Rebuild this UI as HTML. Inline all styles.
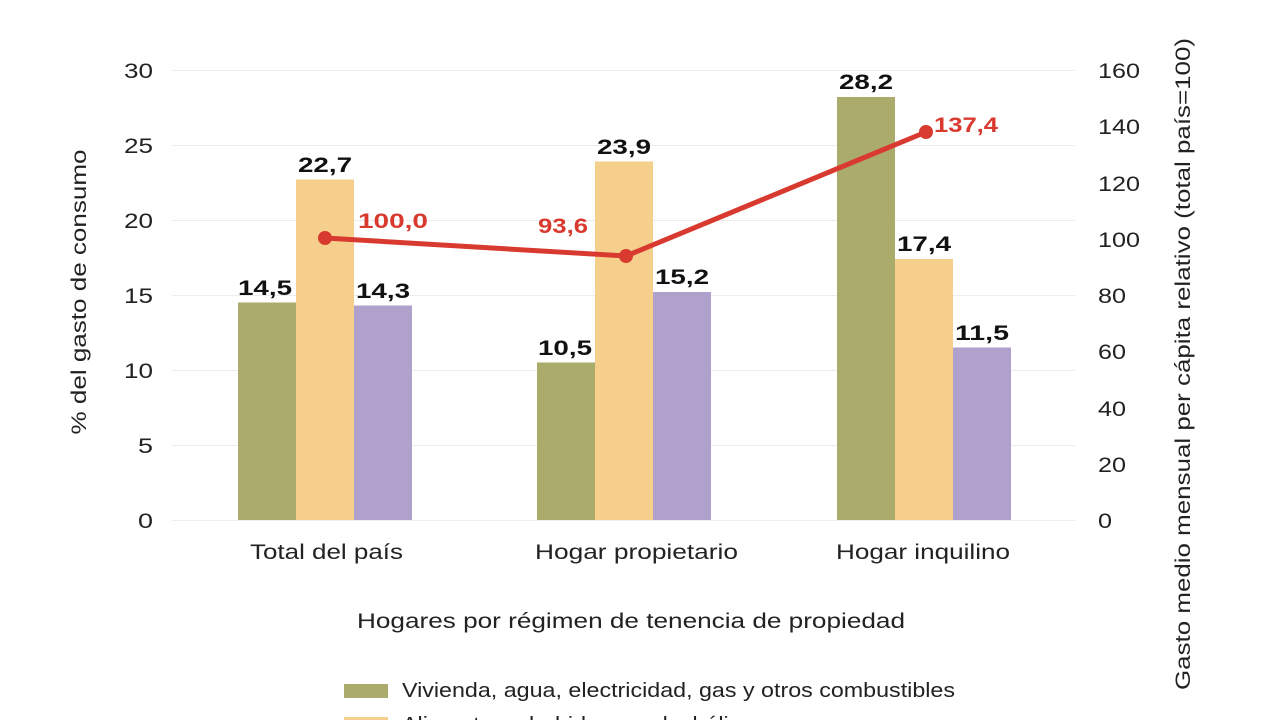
<!DOCTYPE html>
<html><head><meta charset="utf-8"><style>
body{margin:0;background:#fff;width:1280px;height:720px;overflow:hidden}
text{font-family:"Liberation Sans",sans-serif}
</style></head><body>
<svg width="1280" height="720" viewBox="0 0 1280 720" xmlns="http://www.w3.org/2000/svg">
<g stroke="#ececec" stroke-width="1">
<line x1="172" x2="1075" y1="70.5" y2="70.5"/><line x1="172" x2="1075" y1="145.5" y2="145.5"/>
<line x1="172" x2="1075" y1="220.5" y2="220.5"/><line x1="172" x2="1075" y1="295.5" y2="295.5"/>
<line x1="172" x2="1075" y1="370.5" y2="370.5"/><line x1="172" x2="1075" y1="445.5" y2="445.5"/>
<line x1="172" x2="1075" y1="520.5" y2="520.5"/>
</g>
<g font-size="21" fill="#222" text-anchor="end" lengthAdjust="spacingAndGlyphs">
<text x="153" y="78" textLength="29" lengthAdjust="spacingAndGlyphs">30</text><text x="153" y="153" textLength="29" lengthAdjust="spacingAndGlyphs">25</text><text x="153" y="228" textLength="29" lengthAdjust="spacingAndGlyphs">20</text>
<text x="153" y="303" textLength="29" lengthAdjust="spacingAndGlyphs">15</text><text x="153" y="378" textLength="29" lengthAdjust="spacingAndGlyphs">10</text><text x="153" y="453" textLength="15" lengthAdjust="spacingAndGlyphs">5</text><text x="153" y="528" textLength="15" lengthAdjust="spacingAndGlyphs">0</text>
</g>
<g font-size="21" fill="#222">
<text x="1098" y="78" textLength="42" lengthAdjust="spacingAndGlyphs">160</text><text x="1098" y="134" textLength="42" lengthAdjust="spacingAndGlyphs">140</text><text x="1098" y="191" textLength="42" lengthAdjust="spacingAndGlyphs">120</text>
<text x="1098" y="247" textLength="42" lengthAdjust="spacingAndGlyphs">100</text><text x="1098" y="303" textLength="28" lengthAdjust="spacingAndGlyphs">80</text><text x="1098" y="359" textLength="28" lengthAdjust="spacingAndGlyphs">60</text>
<text x="1098" y="416" textLength="28" lengthAdjust="spacingAndGlyphs">40</text><text x="1098" y="472" textLength="28" lengthAdjust="spacingAndGlyphs">20</text><text x="1098" y="528" textLength="14" lengthAdjust="spacingAndGlyphs">0</text>
</g>
<text font-size="21" fill="#222" text-anchor="middle" textLength="285" lengthAdjust="spacingAndGlyphs" transform="translate(86,292) rotate(-90)">% del gasto de consumo</text>
<text font-size="21" fill="#222" text-anchor="middle" textLength="652" lengthAdjust="spacingAndGlyphs" transform="translate(1190,364) rotate(-90)">Gasto medio mensual per cápita relativo (total país=100)</text>
<g>
<rect x="238" y="302.5" width="58" height="217.5" fill="#abab6b"/>
<rect x="296" y="179.5" width="58" height="340.5" fill="#f6cf8c"/>
<rect x="354" y="305.5" width="58" height="214.5" fill="#afa1cb"/>
<rect x="537" y="362.5" width="58" height="157.5" fill="#abab6b"/>
<rect x="595" y="161.5" width="58" height="358.5" fill="#f6cf8c"/>
<rect x="653" y="292" width="58" height="228" fill="#afa1cb"/>
<rect x="837" y="97" width="58" height="423" fill="#abab6b"/>
<rect x="895" y="259" width="58" height="261" fill="#f6cf8c"/>
<rect x="953" y="347.5" width="58" height="172.5" fill="#afa1cb"/>
</g>
<g font-size="21" font-weight="bold" fill="#111" text-anchor="middle">
<text x="265" y="295" textLength="54" lengthAdjust="spacingAndGlyphs">14,5</text><text x="325" y="172" textLength="54" lengthAdjust="spacingAndGlyphs">22,7</text><text x="383" y="298" textLength="54" lengthAdjust="spacingAndGlyphs">14,3</text>
<text x="565" y="355" textLength="54" lengthAdjust="spacingAndGlyphs">10,5</text><text x="624" y="154" textLength="54" lengthAdjust="spacingAndGlyphs">23,9</text><text x="682" y="284" textLength="54" lengthAdjust="spacingAndGlyphs">15,2</text>
<text x="866" y="89" textLength="54" lengthAdjust="spacingAndGlyphs">28,2</text><text x="924" y="251" textLength="54" lengthAdjust="spacingAndGlyphs">17,4</text><text x="982" y="340" textLength="54" lengthAdjust="spacingAndGlyphs">11,5</text>
</g>
<polyline points="325,238 626,256 926,132" fill="none" stroke="#d93a2f" stroke-width="5"/>
<circle cx="325" cy="238" r="7" fill="#d93a2f"/><circle cx="626" cy="256" r="7" fill="#d93a2f"/><circle cx="926" cy="132" r="7" fill="#d93a2f"/>
<g font-size="21" font-weight="bold" fill="#d93a2f">
<text x="358" y="228" textLength="70" lengthAdjust="spacingAndGlyphs">100,0</text><text x="538" y="233" textLength="50" lengthAdjust="spacingAndGlyphs">93,6</text><text x="934" y="132" textLength="64" lengthAdjust="spacingAndGlyphs">137,4</text>
</g>
<g font-size="21" fill="#222">
<text x="250" y="559" textLength="153" lengthAdjust="spacingAndGlyphs">Total del país</text>
<text x="535" y="559" textLength="203" lengthAdjust="spacingAndGlyphs">Hogar propietario</text>
<text x="836" y="559" textLength="174" lengthAdjust="spacingAndGlyphs">Hogar inquilino</text>
<text x="357" y="628" textLength="548" lengthAdjust="spacingAndGlyphs">Hogares por régimen de tenencia de propiedad</text>
</g>
<rect x="344" y="684" width="44" height="14" fill="#abab6b"/>
<text x="402" y="697" font-size="20" fill="#222" textLength="553" lengthAdjust="spacingAndGlyphs">Vivienda, agua, electricidad, gas y otros combustibles</text>
<rect x="344" y="717" width="44" height="14" fill="#f6cf8c"/>
<text x="402" y="731" font-size="20" fill="#222" textLength="363" lengthAdjust="spacingAndGlyphs">Alimentos y bebidas no alcohólicos</text>
</svg>
</body></html>
